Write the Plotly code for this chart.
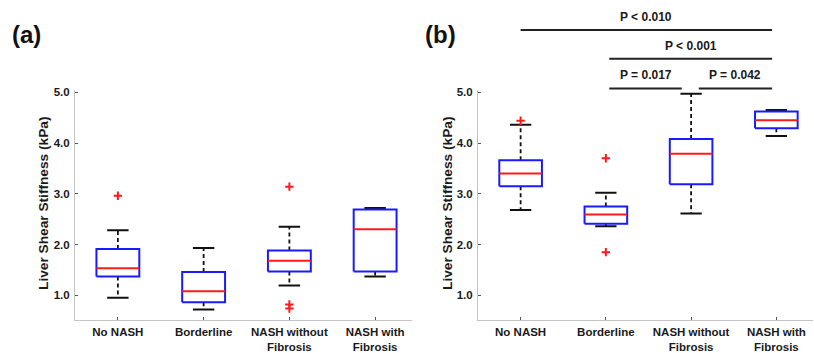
import plotly.graph_objects as go

# ---------------- data ----------------
categories = ["No NASH", "Borderline", "NASH without<br>Fibrosis", "NASH with<br>Fibrosis"]
y_tick_vals = [1.0, 2.0, 3.0, 4.0, 5.0]
y_tick_text = ["1.0", "2.0", "3.0", "4.0", "5.0"]

# panel (a)
a_lower = [0.95, 0.72, 1.19, 1.37]
a_q1 = [1.37, 0.86, 1.47, 1.47]
a_median = [1.53, 1.08, 1.68, 2.30]
a_q3 = [1.91, 1.46, 1.88, 2.69]
a_upper = [2.28, 1.93, 2.35, 2.72]
a_outliers = [[2.96], [], [3.14, 0.82, 0.74], []]

# panel (b)
b_lower = [2.68, 2.36, 2.61, 4.14]
b_q1 = [3.15, 2.41, 3.19, 4.29]
b_median = [3.40, 2.59, 3.79, 4.45]
b_q3 = [3.66, 2.75, 4.08, 4.62]
b_upper = [4.36, 3.02, 4.97, 4.65]
b_outliers = [[4.44], [3.70, 1.85], [], []]

# significance comparisons for panel (b): (group i, group j, label)
comparisons = [(0, 3, "P < 0.010"), (1, 3, "P < 0.001"), (1, 2, "P = 0.017"), (2, 3, "P = 0.042")]

# ---------------- style ----------------
FONT = "Liberation Sans, Arial, sans-serif"
BLUE = "#1a1aff"
RED = "#ff1a1a"
BOX_HALF = 0.25
CAP_HALF = 0.125
Y_RANGE = [0.52, 5.04]
X_RANGE = [-0.5, 3.43]
Y_DOMAIN = [0.0878, 0.7507]
comp_levels = [0.925, 0.842, 0.756, 0.756]
comp_insets = [(0.0, 0.05), (0.04, 0.05), (0.04, 0.11), (0.09, 0.05)]

fig = go.Figure()


def add_panel(xa, ya, lower, q1, med, q3, upper, outliers):
    bx, by, mx, my, wx, wy, cx, cy, ox, oy = ([] for _ in range(10))
    for i in range(len(categories)):
        bx += [i - BOX_HALF, i + BOX_HALF, i + BOX_HALF, i - BOX_HALF, i - BOX_HALF, None]
        by += [q1[i], q1[i], q3[i], q3[i], q1[i], None]
        mx += [i - BOX_HALF, i + BOX_HALF, None]
        my += [med[i], med[i], None]
        wx += [i, i, None, i, i, None]
        wy += [q3[i], upper[i], None, q1[i], lower[i], None]
        cx += [i - CAP_HALF, i + CAP_HALF, None, i - CAP_HALF, i + CAP_HALF, None]
        cy += [upper[i], upper[i], None, lower[i], lower[i], None]
        for v in outliers[i]:
            ox.append(i)
            oy.append(v)
    common = dict(xaxis=xa, yaxis=ya, mode="lines", hoverinfo="skip", showlegend=False)
    fig.add_trace(go.Scatter(x=wx, y=wy, line=dict(color="#111111", width=1.8, dash="4px,3px"), **common))
    fig.add_trace(go.Scatter(x=cx, y=cy, line=dict(color="#111111", width=2), **common))
    fig.add_trace(go.Scatter(x=bx, y=by, line=dict(color=BLUE, width=2), **common))
    fig.add_trace(go.Scatter(x=mx, y=my, line=dict(color=RED, width=2), **common))
    fig.add_trace(go.Scatter(x=ox, y=oy, xaxis=xa, yaxis=ya, mode="markers", hoverinfo="skip",
                             showlegend=False, cliponaxis=False,
                             marker=dict(symbol="cross-thin", size=6, line=dict(color=RED, width=2))))


add_panel("x", "y", a_lower, a_q1, a_median, a_q3, a_upper, a_outliers)
add_panel("x2", "y2", b_lower, b_q1, b_median, b_q3, b_upper, b_outliers)

axis_common = dict(
    showgrid=False, zeroline=False, showline=True, linecolor="#c4c4c4", linewidth=1,
    ticks="inside", ticklen=3, tickcolor="#555555", tickwidth=1,
    tickfont=dict(family=FONT, size=11.5, color="#1a1a1a", weight="bold"),
    fixedrange=True,
)
xcommon = dict(axis_common, range=X_RANGE, tickvals=list(range(len(categories))), ticktext=categories,
               ticklabelstandoff=2)
ycommon = dict(axis_common, range=Y_RANGE, tickvals=y_tick_vals, ticktext=y_tick_text, domain=Y_DOMAIN,
               ticklabelstandoff=2)

fig.update_layout(
    width=814, height=353,
    margin=dict(l=0, r=0, t=0, b=0),
    paper_bgcolor="white", plot_bgcolor="white",
    xaxis=dict(xcommon, domain=[75 / 814, 412 / 814], anchor="y"),
    yaxis=dict(ycommon, anchor="x"),
    xaxis2=dict(xcommon, domain=[478 / 814, 813 / 814], anchor="y2"),
    yaxis2=dict(ycommon, anchor="x2"),
    font=dict(family=FONT),
)

annotations = []
# panel labels
annotations.append(dict(text="(a)", x=27 / 814, y=(353 - 31) / 353, xref="paper", yref="paper",
                        showarrow=False, font=dict(family=FONT, size=24, color="#111111", weight="bold"),
                        xanchor="center", yanchor="middle"))
annotations.append(dict(text="(b)", x=440 / 814, y=(353 - 31) / 353, xref="paper", yref="paper",
                        showarrow=False, font=dict(family=FONT, size=24, color="#111111", weight="bold"),
                        xanchor="center", yanchor="middle"))
# y titles
for xpix in (44, 448):
    annotations.append(dict(text="Liver Shear Stiffness (kPa)", x=xpix / 814, y=(353 - 204) / 353,
                            xref="paper", yref="paper", showarrow=False, textangle=-90,
                            font=dict(family=FONT, size=13.7, color="#1a1a1a", weight="bold"),
                            xanchor="center", yanchor="middle"))

shapes = []
for (i, j, label), lvl, (l_in, r_in) in zip(comparisons, comp_levels, comp_insets):
    x0 = i + l_in
    x1 = j - r_in
    shapes.append(dict(type="line", xref="x2", yref="paper", x0=x0, x1=x1, y0=lvl, y1=lvl,
                       line=dict(color="#222222", width=2)))
    annotations.append(dict(text=label, x=(x0 + x1) / 2, y=lvl + 0.012, xref="x2", yref="paper",
                            showarrow=False, xanchor="center", yanchor="bottom",
                            font=dict(family=FONT, size=12, color="#1a1a1a", weight="bold")))

fig.update_layout(annotations=annotations, shapes=shapes)

fig.write_html("out.html", config={"displayModeBar": False})
